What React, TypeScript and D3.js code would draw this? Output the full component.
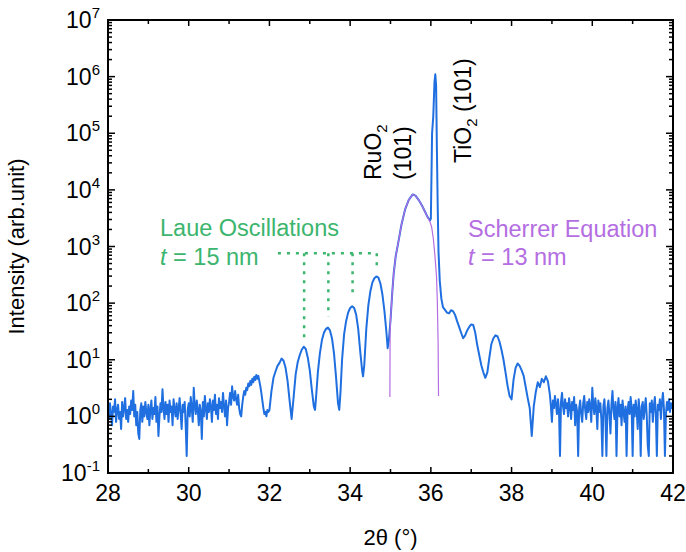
import React from "react";
import * as d3 from "d3";

// ---------- data ----------
// low-angle background, uniform 0.025° steps from 28.000°
const lowBgStart = 28.0;
const lowBgStep = 0.025;
const lowBgIntensity = [
  1.4, 0.9, 1.7, 1.1, 0.7, 1.5, 1.2, 2.0, 0.8, 1.3, 1.6, 0.9, 1.2, 0.6, 1.8, 1.0, 1.4, 2.1, 0.9, 1.3,
  0.8, 1.5, 1.1, 1.9, 1.3, 2.8, 1.0, 1.6, 0.7, 1.2, 0.5, 0.4, 1.3, 1.7, 0.8, 1.5, 1.0, 1.8, 1.2, 0.9,
  1.6, 0.7, 1.3, 1.9, 0.9, 1.4, 1.1, 2.2, 0.8, 1.5, 0.45, 1.0, 1.7, 1.2, 3.0, 1.4, 0.9, 1.8, 1.1, 1.6,
  0.8, 1.9, 1.2, 1.5, 0.7, 2.0, 1.3, 1.0, 1.7, 0.9, 1.4, 2.1, 1.1, 0.6, 1.6, 1.2, 1.8, 0.7, 0.2, 1.3,
  1.7, 1.0, 2.2, 1.4, 0.8, 3.2, 1.5, 1.1, 1.9, 1.3, 0.7, 1.6, 1.2, 0.4, 1.8, 1.0, 2.3, 1.4, 0.9, 1.7,
  1.2, 2.0, 1.5, 0.8, 1.9, 1.3, 2.4, 1.1, 1.6, 0.9, 2.1, 1.4, 1.8, 1.2, 2.6, 1.5, 1.0, 1.9, 0.7, 1.4,
  1.8, 2.6, 1.6, 3.4, 2.2, 1.9, 2.8, 2.0, 1.6, 2.4, 1.4, 1.1, 1.0, 1.6, 2.2, 2.8, 2.4, 3.2, 2.9, 3.8,
  3.4, 4.2, 3.6, 4.6, 4.0, 5.0, 4.4, 5.4, 4.6, 5.2, 4.2, 3.4, 2.6, 1.9, 1.4, 1.1, 1.2, 1.0, 1.3, 1.2,
];

// Laue fringes, RuO2 (101) and TiO2 (101) region
const peakScan: [number, number][] = [
  [32.0, 1.3], [32.05, 2.8], [32.1, 4.8], [32.15, 6.2], [32.2, 7.8], [32.25, 8.8], [32.3, 10.5], [32.35, 9.6],
  [32.4, 7.2], [32.45, 4.2], [32.5, 1.9], [32.55, 0.9], [32.6, 2.2], [32.65, 5.5], [32.7, 9], [32.75, 12],
  [32.8, 15], [32.85, 17], [32.9, 15.5], [32.95, 11], [33.0, 6.5], [33.05, 3], [33.1, 1.5], [33.13, 1.3],
  [33.16, 2.4], [33.2, 6], [33.25, 13], [33.3, 22], [33.35, 30], [33.4, 35], [33.45, 37], [33.5, 33],
  [33.55, 24], [33.6, 13], [33.65, 5], [33.7, 1.7], [33.73, 1.3], [33.76, 2.6], [33.8, 10], [33.85, 28],
  [33.9, 48], [33.95, 68], [34.0, 82], [34.05, 88], [34.1, 82], [34.15, 62], [34.2, 35], [34.25, 14],
  [34.3, 6.2], [34.32, 5.1], [34.35, 8], [34.4, 35], [34.45, 90], [34.5, 160], [34.55, 230], [34.6, 275],
  [34.65, 296], [34.7, 282], [34.75, 222], [34.8, 142], [34.85, 72], [34.9, 30], [34.93, 16], [34.96, 22],
  [35.0, 50], [35.04, 140], [35.08, 340], [35.13, 680], [35.19, 1150], [35.27, 2400], [35.36, 4470],
  [35.45, 6600], [35.55, 8300], [35.62, 7900], [35.7, 6600], [35.78, 5300], [35.85, 4200], [35.92, 3300],
  [35.98, 2900], [36.0, 3100], [36.02, 3.0e4], [36.03, 1.0e5], [36.06, 2.0e5], [36.09, 8e5], [36.11, 1.1e6],
  [36.13, 7e5], [36.15, 5e4], [36.17, 5000], [36.19, 800], [36.22, 250], [36.26, 120], [36.3, 85],
  [36.35, 76], [36.4, 68], [36.45, 66], [36.5, 75], [36.55, 72],
];

// high-angle tail, uniform 0.05° steps from 36.60° to 38.85°
const tailStart = 36.6;
const tailStep = 0.05;
const tailIntensity = [
  62, 48, 38, 30, 24, 27, 33, 38, 42, 41,
  30, 18, 12, 8, 6, 4.8, 6, 11, 19, 24,
  27, 26, 21, 15, 10, 6, 3.5, 2.3, 2.0, 4.5,
  7.2, 8.6, 7.8, 6.5, 5.2, 3.3, 2.1, 1.4, 0.45, 1.5,
  2.7, 4.0, 3.3, 4.6, 4.0, 5.1,
];

// high-angle background, uniform 0.025° steps from 38.900° to 42.000°
const highBgStart = 38.9;
const highBgStep = 0.025;
const highBgIntensity = [
  4.2, 3.2, 2.4, 1.5, 0.8, 1.9, 1.4, 2.3, 1.6, 1.1, 2.0, 1.3, 0.2, 1.8, 2.6, 1.5, 1.1, 2.0, 1.4, 1.7,
  1.0, 2.1, 1.5, 0.9, 1.8, 1.3, 2.2, 0.7, 1.6, 1.2, 0.2, 1.4, 1.9, 1.1, 0.8, 1.7, 2.3, 1.3, 0.9, 1.8,
  1.2, 2.0, 1.5, 0.8, 3.2, 1.6, 1.1, 2.1, 1.4, 0.6, 1.9, 1.2, 1.7, 0.9, 0.2, 1.5, 2.0, 1.0, 0.2, 1.4,
  1.9, 1.1, 0.5, 1.6, 2.8, 1.3, 0.9, 1.8, 0.2, 1.4, 2.1, 1.0, 1.6, 0.7, 1.9, 1.2, 0.8, 1.5, 0.2, 1.3,
  1.8, 1.1, 2.2, 1.4, 0.2, 1.6, 1.0, 1.9, 1.3, 0.6, 2.0, 1.2, 0.2, 1.5, 1.8, 0.9, 1.4, 2.1, 1.0, 0.3,
  0.2, 1.7, 1.2, 1.9, 0.8, 1.5, 2.2, 1.1, 0.2, 1.6, 1.3, 2.0, 0.9, 1.7, 2.6, 1.4, 0.2, 1.1, 1.8, 1.3,
  2.0, 1.2, 1.7, 1.4, 1.5,
];

// Scherrer (finite-size) fit of RuO2 (101)
const scherrerFit: [number, number][] = [
  [34.985, 2.2], [34.99, 30], [35.0, 50], [35.04, 140], [35.08, 340], [35.13, 680], [35.19, 1150],
  [35.27, 2400], [35.36, 4470], [35.45, 6600], [35.55, 8300], [35.62, 7900], [35.7, 6600], [35.78, 5300],
  [35.85, 4200], [35.92, 3300], [35.98, 2700], [36.02, 2200], [36.06, 1400], [36.1, 700], [36.14, 296],
  [36.16, 110], [36.18, 20], [36.19, 2.3],
];

// Laue fringe markers
const lauePeaks = [32.86, 33.46, 34.06, 34.66];
const laueMarkerBottom = [21, 58, 143, 410];
const laueMarkerLevel = 760;
const laueMarkerStart = 32.21;

const xTicks = [28, 29, 30, 31, 32, 33, 34, 35, 36, 37, 38, 39, 40, 41, 42];
const yExponents = [-1, 0, 1, 2, 3, 4, 5, 6, 7];

// ---------- layout ----------
const W = 686;
const H = 552;
const M = { left: 108, right: 673, top: 20, bottom: 473 };
const BLUE = "#1f6fe0";
const PURPLE = "#b46ee2";
const GREEN = "#3cb56e";
const FONT = "'Liberation Sans', Arial, sans-serif";

export default function App() {
  const x = d3.scaleLinear().domain([28, 42]).range([M.left, M.right]);
  const y = d3.scaleLog().domain([0.1, 1e7]).range([M.bottom, M.top]);

  const scan: [number, number][] = [
    ...lowBgIntensity.map((v, i) => [lowBgStart + i * lowBgStep, v] as [number, number]),
    ...peakScan,
    ...tailIntensity.map((v, i) => [tailStart + i * tailStep, v] as [number, number]),
    ...highBgIntensity.map((v, i) => [highBgStart + i * highBgStep, v] as [number, number]),
  ];

  const line = d3
    .line<[number, number]>()
    .x((d) => x(d[0]))
    .y((d) => y(d[1]));

  const minor: number[] = [];
  for (let e = -1; e < 7; e++) for (let k = 2; k <= 9; k++) minor.push(k * Math.pow(10, e));

  const tickFont = 23;

  return (
    <svg
      width={W}
      height={H}
      style={{ position: "absolute", left: 0, top: 0, display: "block", background: "#fff" }}
      fontFamily={FONT}
    >
      <defs>
        <clipPath id="plotClip">
          <rect x={M.left} y={M.top} width={M.right - M.left} height={M.bottom - M.top} />
        </clipPath>
      </defs>

      {/* data */}
      <g clipPath="url(#plotClip)">
        <path d={line(scan) ?? ""} fill="none" stroke={BLUE} strokeWidth={2} strokeLinejoin="round" />
        <path d={line(scherrerFit) ?? ""} fill="none" stroke={PURPLE} strokeWidth={1.2} />
        {/* Laue markers */}
        <line
          x1={x(laueMarkerStart)}
          x2={x(lauePeaks[lauePeaks.length - 1])}
          y1={y(laueMarkerLevel)}
          y2={y(laueMarkerLevel)}
          stroke={GREEN}
          strokeWidth={2.5}
          strokeDasharray="3,6"
        />
        {lauePeaks.map((p, i) => (
          <line
            key={p}
            x1={x(p)}
            x2={x(p)}
            y1={y(laueMarkerLevel)}
            y2={y(laueMarkerBottom[i])}
            stroke={GREEN}
            strokeWidth={2.5}
            strokeDasharray="3,6"
          />
        ))}
      </g>

      {/* ticks */}
      <g stroke="#000" strokeWidth={1.5}>
        {xTicks.map((t) => {
          const len = t % 2 === 0 ? 6 : 4;
          return (
            <g key={"xt" + t}>
              <line x1={x(t)} x2={x(t)} y1={M.bottom} y2={M.bottom - len} />
              <line x1={x(t)} x2={x(t)} y1={M.top} y2={M.top + len} />
            </g>
          );
        })}
        {yExponents.map((e) => (
          <g key={"yt" + e}>
            <line x1={M.left} x2={M.left + 7} y1={y(Math.pow(10, e))} y2={y(Math.pow(10, e))} />
            <line x1={M.right} x2={M.right - 7} y1={y(Math.pow(10, e))} y2={y(Math.pow(10, e))} />
          </g>
        ))}
        {minor.map((v, i) => (
          <g key={"ym" + i}>
            <line x1={M.left} x2={M.left + 4} y1={y(v)} y2={y(v)} />
            <line x1={M.right} x2={M.right - 4} y1={y(v)} y2={y(v)} />
          </g>
        ))}
      </g>

      <rect
        x={M.left}
        y={M.top}
        width={M.right - M.left}
        height={M.bottom - M.top}
        fill="none"
        stroke="#000"
        strokeWidth={2}
      />

      {/* tick labels */}
      {xTicks
        .filter((t) => t % 2 === 0)
        .map((t) => (
          <text key={"xl" + t} x={x(t)} y={M.bottom + 28} textAnchor="middle" fontSize={tickFont} fill="#000">
            {t}
          </text>
        ))}
      {yExponents.map((e) => (
        <text
          key={"yl" + e}
          x={M.left - 8}
          y={y(Math.pow(10, e)) + 8}
          textAnchor="end"
          fontSize={tickFont}
          fill="#000"
        >
          <tspan>10</tspan>
          <tspan dy={-10} fontSize={15}>
            {e}
          </tspan>
        </text>
      ))}

      {/* axis titles */}
      <text x={(M.left + M.right) / 2} y={545} textAnchor="middle" fontSize={22} fill="#000">
        2θ (°)
      </text>
      <text
        transform={`translate(24, ${(M.top + M.bottom) / 2}) rotate(-90)`}
        textAnchor="middle"
        fontSize={22}
        fill="#000"
      >
        Intensity (arb.unit)
      </text>

      {/* annotations */}
      <text x={160} y={236} fontSize={23.5} fill={GREEN}>
        Laue Oscillations
      </text>
      <text x={160} y={265} fontSize={23.5} fill={GREEN}>
        <tspan fontStyle="italic">t</tspan> = 15 nm
      </text>
      <text x={468} y={237} fontSize={23.5} fill={PURPLE}>
        Scherrer Equation
      </text>
      <text x={468} y={265} fontSize={23.5} fill={PURPLE}>
        <tspan fontStyle="italic">t</tspan> = 13 nm
      </text>

      <text transform="translate(381, 180) rotate(-90)" fontSize={23} fill="#000">
        RuO<tspan dy={6} fontSize={15}>2</tspan>
      </text>
      <text transform="translate(411, 180) rotate(-90)" fontSize={23} fill="#000">
        (101)
      </text>
      <text transform="translate(471, 163) rotate(-90)" fontSize={23} fill="#000">
        TiO<tspan dy={6} fontSize={15}>2</tspan>
        <tspan dy={-6}> (101)</tspan>
      </text>
    </svg>
  );
}
